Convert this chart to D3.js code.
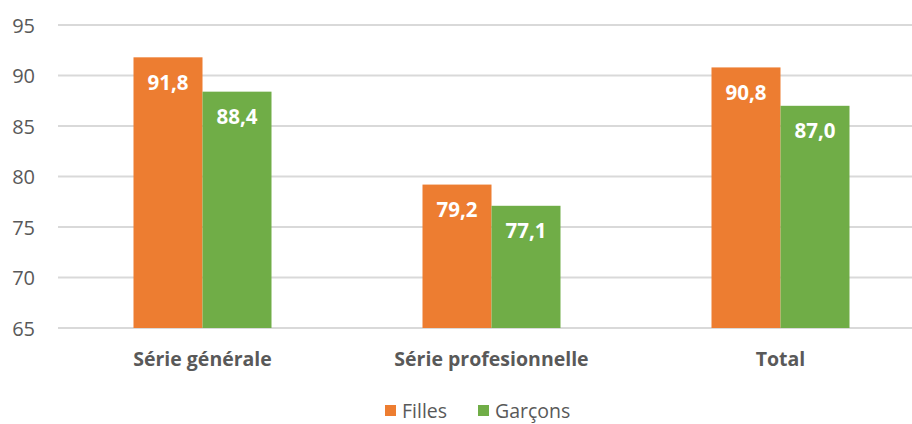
<!DOCTYPE html>
<html><head><meta charset="utf-8">
<script src="https://cdn.jsdelivr.net/npm/d3@7"></script>
<style>body{margin:0;background:#fff}svg{display:block}</style>
</head><body>
<svg id="c" width="912" height="424"></svg>
<script>
const categories = ["Série générale", "Série profesionnelle", "Total"];
const seriesNames = ["Filles", "Garçons"];
const filles = [91.8, 79.2, 90.8];
const garcons = [88.4, 77.1, 87.0];
const yTicks = [65, 70, 75, 80, 85, 90, 95];
const colors = ["#ED7D31", "#70AD47"];

(function () {
const font = "'Open Sans', sans-serif";
const svg = d3.select("#c");
const mLeft = 58, mRight = 925, mTop = 25, mBottom = 328;
const y = d3.scaleLinear().domain([65, 95]).range([mBottom, mTop]);
const x0 = d3.scaleBand().domain(categories).range([mLeft, mRight]).paddingInner(0.5225).paddingOuter(0.26125);
const x1 = d3.scaleBand().domain(seriesNames).range([0, x0.bandwidth()]);

// gridlines
svg.append("g").selectAll("line").data(yTicks).join("line")
  .attr("x1", mLeft).attr("x2", 912)
  .attr("y1", d => y(d)).attr("y2", d => y(d))
  .attr("stroke", "#d9d9d9").attr("stroke-width", 2);

// y labels
const yAxis = d3.axisLeft(y).tickValues(yTicks).tickSize(0).tickPadding(0);
const ya = svg.append("g").attr("transform", `translate(${mLeft - 23},0)`).call(yAxis);
ya.select(".domain").remove();
ya.selectAll("text").attr("font-family", font).attr("font-size", 20).attr("fill", "#595959").attr("text-anchor", "end").attr("dy", "0.36em");

const data = categories.map((c, i) => ({c, vals: [filles[i], garcons[i]]}));
const g = svg.append("g").selectAll("g").data(data).join("g")
  .attr("transform", d => `translate(${x0(d.c)},0)`);
g.selectAll("rect").data(d => d.vals.map((v, j) => ({v, s: seriesNames[j], j}))).join("rect")
  .attr("x", d => x1(d.s)).attr("width", x1.bandwidth())
  .attr("y", d => y(d.v)).attr("height", d => y(65) - y(d.v))
  .attr("fill", d => colors[d.j]);
g.selectAll("text").data(d => d.vals.map((v, j) => ({v, s: seriesNames[j], j}))).join("text")
  .attr("x", d => x1(d.s) + x1.bandwidth() / 2)
  .attr("y", d => y(d.v) + 25)
  .attr("dy", "0.36em")
  .attr("text-anchor", "middle")
  .attr("font-family", font).attr("font-weight", "bold").attr("font-size", 20.5)
  .attr("fill", "#fff")
  .text(d => d3.format(".1f")(d.v).replace(".", ","));

// x labels
const xAxis = d3.axisBottom(x0).tickSize(0).tickPadding(0);
const xa = svg.append("g").attr("transform", `translate(0,359)`).call(xAxis);
xa.select(".domain").remove();
xa.selectAll("text").attr("font-family", font).attr("font-weight", "bold").attr("font-size", 19.5).attr("fill", "#595959").attr("dy", "0.36em").attr("y", 0);

// legend
const legX = [385, 478];
const lg = svg.append("g").selectAll("g").data(seriesNames).join("g")
  .attr("transform", (d, i) => `translate(${legX[i]},405)`);
lg.append("rect").attr("width", 11).attr("height", 11).attr("fill", (d, i) => colors[i]);
lg.append("text").attr("x", 17).attr("y", 6).attr("dy", "0.36em")
  .attr("font-family", font).attr("font-size", 19.5).attr("fill", "#595959").text(d => d);
})();
</script>
</body></html>
